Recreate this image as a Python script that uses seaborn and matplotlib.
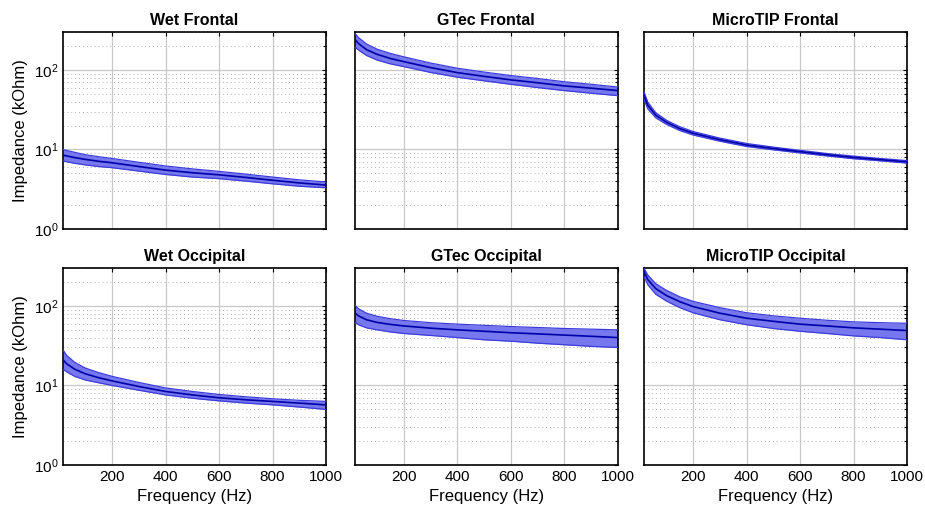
import numpy as np
import pandas as pd
import matplotlib
matplotlib.use("Agg")
import matplotlib.pyplot as plt
import seaborn as sns
from matplotlib.ticker import LogLocator, NullFormatter, FixedLocator

sns.set_style("white")
plt.rcParams['font.family'] = ['Liberation Sans', 'DejaVu Sans']
plt.rcParams['text.color'] = 'black'
plt.rcParams['axes.labelcolor'] = 'black'
plt.rcParams['mathtext.fontset'] = 'custom'
plt.rcParams['mathtext.rm'] = 'Liberation Sans'
plt.rcParams['mathtext.it'] = 'Liberation Sans'

freq = [16, 30, 60, 100, 150, 200, 300, 400, 500, 600, 700, 800, 900, 1000]

titles = ["Wet Frontal", "GTec Frontal", "MicroTIP Frontal",
          "Wet Occipital", "GTec Occipital", "MicroTIP Occipital"]

wet_frontal_mean = [8.5, 8.3, 7.9, 7.5, 7.1, 6.8, 6.1, 5.5, 5.1, 4.8, 4.45, 4.1, 3.8, 3.57]
wet_frontal_hi = [10.0, 9.7, 9.2, 8.6, 8.1, 7.7, 6.9, 6.2, 5.7, 5.3, 4.9, 4.5, 4.15, 3.9]
wet_frontal_lo = [7.2, 7.0, 6.7, 6.4, 6.1, 5.9, 5.35, 4.85, 4.5, 4.3, 4.0, 3.7, 3.45, 3.3]

gtec_frontal_mean = [243, 215, 180, 157, 139, 127, 107, 92.5, 83, 75, 69, 63, 59, 55]
gtec_frontal_hi = [290, 255, 212, 182, 161, 146, 122, 105, 94, 85, 78, 71, 66, 61]
gtec_frontal_lo = [196, 178, 152, 133, 119, 110, 93, 81, 73, 66, 60, 55, 51, 47.5]

micro_frontal_mean = [48, 36, 27, 22, 18.3, 16, 13.3, 11.4, 10.3, 9.4, 8.6, 7.95, 7.45, 7.0]
micro_frontal_hi = [53, 39.5, 29, 23.3, 19.3, 16.8, 13.9, 11.9, 10.7, 9.75, 8.9, 8.25, 7.7, 7.25]
micro_frontal_lo = [43, 32.5, 25, 20.7, 17.3, 15.2, 12.7, 10.9, 9.9, 9.05, 8.3, 7.65, 7.2, 6.75]

wet_occ_mean = [21, 18.7, 16.0, 14.0, 12.5, 11.4, 9.7, 8.4, 7.6, 7.0, 6.6, 6.3, 6.0, 5.7]
wet_occ_hi = [28, 23.8, 19.5, 16.5, 14.5, 13.0, 10.9, 9.3, 8.4, 7.7, 7.2, 6.8, 6.5, 6.3]
wet_occ_lo = [16, 14.8, 13.0, 11.7, 10.8, 10.0, 8.7, 7.6, 6.9, 6.4, 6.0, 5.7, 5.35, 5.0]

gtec_occ_mean = [82, 75, 67, 62, 58.5, 56, 52.5, 50, 48, 46, 44.5, 43, 41.5, 40]
gtec_occ_hi = [103, 92, 81, 74, 69, 65.5, 61.5, 59, 57, 55, 53.5, 52, 51, 50]
gtec_occ_lo = [63, 58, 53, 50, 47, 45, 42.5, 40, 37.5, 36, 34, 32.5, 31, 30]

micro_occ_mean = [270, 215, 165, 135, 113, 98, 81, 70, 64, 59, 56, 53, 51, 49]
micro_occ_hi = [300, 245, 190, 157, 130, 114, 95, 82, 75, 70, 66, 63, 61.5, 60.5]
micro_occ_lo = [235, 185, 140, 115, 95, 82, 67, 58, 52, 48, 45, 42, 40, 37.5]

series = [
    (wet_frontal_mean, wet_frontal_lo, wet_frontal_hi),
    (gtec_frontal_mean, gtec_frontal_lo, gtec_frontal_hi),
    (micro_frontal_mean, micro_frontal_lo, micro_frontal_hi),
    (wet_occ_mean, wet_occ_lo, wet_occ_hi),
    (gtec_occ_mean, gtec_occ_lo, gtec_occ_hi),
    (micro_occ_mean, micro_occ_lo, micro_occ_hi),
]

xticks = [200, 400, 600, 800, 1000]

fig = plt.figure(figsize=(9.25, 5.15), dpi=100)
lefts = [0.0681, 0.3835, 0.6962]
bottoms = [0.5553, 0.0971]
w, h = 0.2843, 0.3826

fill_color = "#7777ee"
edge_color = "#3c3cdc"
mean_color = "#0000a8"

for i, (title, (m, lo, hi)) in enumerate(zip(titles, series)):
    r, c = divmod(i, 3)
    ax = fig.add_axes([lefts[c], bottoms[r], w, h])
    df = pd.DataFrame({"freq": freq, "mean": m, "lo": lo, "hi": hi})
    ax.fill_between(df["freq"], df["lo"], df["hi"], color=fill_color, lw=0, zorder=2)
    sns.lineplot(data=df, x="freq", y="hi", ax=ax, color=edge_color, lw=0.9, zorder=3)
    sns.lineplot(data=df, x="freq", y="lo", ax=ax, color=edge_color, lw=0.9, zorder=3)
    sns.lineplot(data=df, x="freq", y="mean", ax=ax, color=mean_color, lw=1.2, zorder=4)
    ax.set_yscale("log")
    ax.set_ylim(1, 300)
    ax.set_xlim(16, 1000)
    ax.xaxis.set_major_locator(FixedLocator(xticks))
    ax.yaxis.set_major_locator(FixedLocator([1, 10, 100]))
    ax.yaxis.set_minor_locator(LogLocator(base=10, subs=np.arange(2, 10), numticks=20))
    ax.yaxis.set_minor_formatter(NullFormatter())
    ax.grid(True, which="major", axis="both", color="#c8c8c8", lw=0.9, ls="-", zorder=0)
    ax.grid(True, which="minor", axis="y", color="#b0b0b0", lw=0.7, ls=(0, (1, 3)), zorder=0)
    ax.set_axisbelow(True)
    for s in ax.spines.values():
        s.set_color("black")
        s.set_linewidth(1.2)
    ax.tick_params(which="both", direction="in", top=True, right=True,
                   labelsize=11, colors="black", length=3, width=0.8)
    ax.tick_params(which="minor", length=2)
    ax.set_title(title, fontsize=11.5, fontweight="bold", pad=5, color="black")
    ax.set_xlabel("")
    ax.set_ylabel("")
    if r == 1:
        ax.set_xticklabels([str(t) for t in xticks])
        ax.set_xlabel("Frequency (Hz)", fontsize=12)
    else:
        ax.set_xticklabels([])
    if c == 0:
        ax.set_yticklabels([r"$10^{0}$", r"$10^{1}$", r"$10^{2}$"])
        ax.set_ylabel("Impedance (kOhm)", fontsize=12)
    else:
        ax.set_yticklabels([])

fig.savefig("out.png", dpi=100)
